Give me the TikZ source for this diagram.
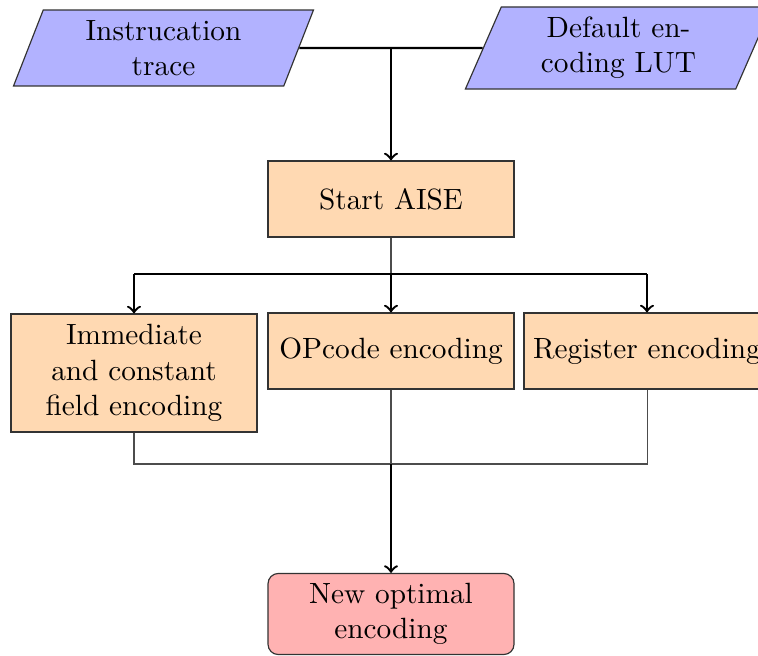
\documentclass[tikz,border=0pt]{standalone}
\usetikzlibrary{shapes.geometric}
\begin{document}
\begin{tikzpicture}[x=0.3413pt,y=-0.3413pt,
  iobox/.style={trapezium, trapezium left angle=72, trapezium right angle=108,
    trapezium stretches=true, draw=black!80, fill=blue!30, align=center,
    inner sep=1pt},
  procbox/.style={rectangle, draw=black!80, fill=orange!30, align=center,
    minimum width=83.96pt, minimum height=25.94pt, inner sep=3pt},
  endbox/.style={rectangle, rounded corners=3.5pt, draw=black!80, fill=red!30,
    align=center, minimum width=83.96pt, minimum height=26.6pt},
  flow/.style={thick,->},
  link/.style={draw=black!70, line width=0.35pt}]
  \useasboundingbox (0,0) rectangle (758,655);

  % inputs
  \node[iobox, minimum width=102.7pt, minimum height=25.9pt] (trace) at (163.5,48) {Instrucation\\trace};
  \node[iobox, trapezium left angle=70, trapezium right angle=110,
        minimum width=104.8pt, minimum height=28pt] (lut) at (618.5,48) {Default en-\\coding LUT};

  % processing steps
  \node[procbox] (start) at (391,199) {Start AISE};
  \node[procbox, minimum height=40.27pt] (imm) at (134,373) {Immediate\\and constant\\field encoding};
  \node[procbox] (opc) at (391,351) {OPcode encoding};
  \node[procbox] (reg) at (647,351) {Register encoding};

  % result
  \node[endbox] (new) at (391,614) {New optimal\\encoding};

  % merge of the two inputs
  \coordinate (j1) at (start.north |- trace.east);
  \draw[thick] (trace.east) -- (lut.west);
  \draw[flow] (j1) -- (start.north);

  % fan-out to the three encoders
  \coordinate (j2) at (391,274);
  \draw[link] (start.south) -- (j2);
  \draw[thick] (imm.north |- j2) -- (reg.north |- j2);
  \draw[flow] (imm.north |- j2) -- (imm.north);
  \draw[flow] (j2) -- (opc.north);
  \draw[flow] (reg.north |- j2) -- (reg.north);

  % fan-in to the result
  \coordinate (j3) at (391,464);
  \draw[link] (imm.south) -- (imm.south |- j3) -- (reg.south |- j3) -- (reg.south);
  \draw[link] (opc.south) -- (j3);
  \draw[flow] (j3) -- (new.north);
\end{tikzpicture}
\end{document}
